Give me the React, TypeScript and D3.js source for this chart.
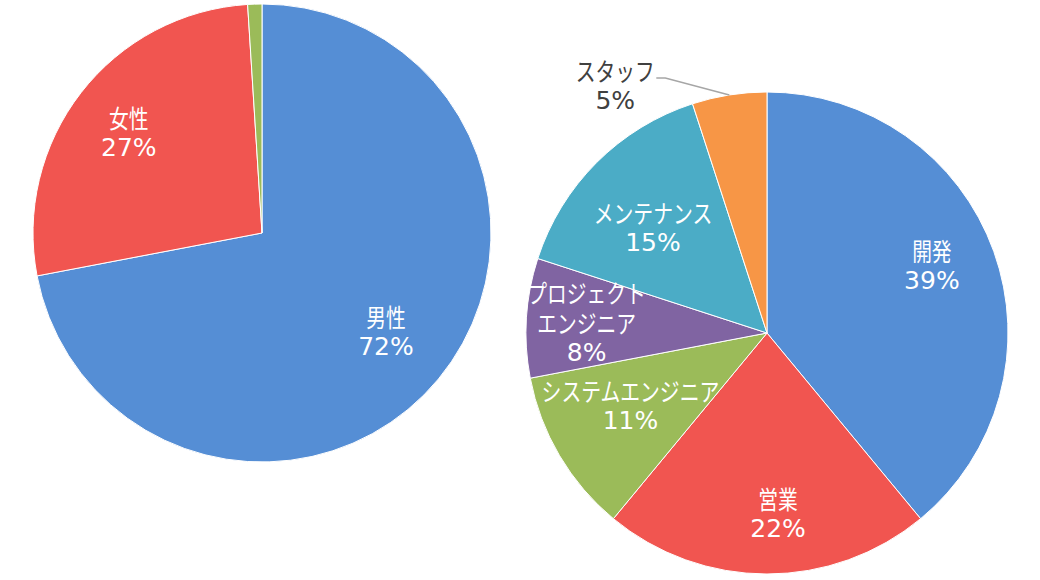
import React, { useEffect, useRef } from 'react';
import * as d3 from 'd3';

// left pie: gender split
const genderLabels = ['男性', '女性', ''];
const genderValues = [72, 27, 1];

// right pie: job categories
const jobLabels = ['開発', '営業', 'システムエンジニア', 'プロジェクト\nエンジニア', 'メンテナンス', 'スタッフ'];
const jobValues = [39, 22, 11, 8, 15, 5];

const genderColors = ['#558ED5', '#F15550', '#9BBB59'];
const jobColors = ['#558ED5', '#F15550', '#9BBB59', '#8064A2', '#4BACC6', '#F79646'];

type Slice = { label: string; value: number };

// where Excel put each label: [fraction of radius, nudge from mid angle in degrees]
const labelPos: Record<string, [number, number]> = {
  '男性': [0.69, -1.3],
  '女性': [0.73, -0.6],
  '開発': [0.74, -2.6],
  '営業': [0.75, -3.5],
  'システムエンジニア': [0.64, 2.9],
  'プロジェクト\nエンジニア': [0.75, 0],
  'メンテナンス': [0.646, -2.1],
};

const CJK = '"Noto Sans CJK JP", sans-serif';
const NUM = '"DejaVu Sans", sans-serif';
const CJK_SIZE = 25;
const SQUEEZE = 0.79; // the original font is narrower than Noto

const App: React.FC = () => {
  const svgRef = useRef<SVGSVGElement | null>(null);

  useEffect(() => {
    const svg = d3.select(svgRef.current);
    svg.selectAll('*').remove();

    const drawPie = (
      data: Slice[],
      colors: string[],
      cx: number,
      cy: number,
      r: number,
    ) => {
      const g = svg.append('g').attr('transform', `translate(${cx},${cy})`);
      const pie = d3
        .pie<Slice>()
        .sort(null)
        .value((d) => d.value);
      const arcs = pie(data);
      const arc = d3.arc<d3.PieArcDatum<Slice>>().innerRadius(0).outerRadius(r);

      g.selectAll('path')
        .data(arcs)
        .enter()
        .append('path')
        .attr('d', arc)
        .attr('fill', (_d, i) => colors[i])
        .attr('stroke', '#fff')
        .attr('stroke-width', 1);

      arcs.forEach((a) => {
        if (!a.data.label) return;
        const mid = (a.startAngle + a.endAngle) / 2;
        const names = a.data.label.split('\n');
        const pos = labelPos[a.data.label];
        let x: number;
        let y: number;
        let fill = '#fff';
        if (pos) {
          const ang = mid + (pos[1] * Math.PI) / 180;
          x = Math.sin(ang) * r * pos[0];
          y = -Math.cos(ang) * r * pos[0];
        } else {
          // outside label with leader line
          const ex = Math.sin(mid) * r;
          const ey = -Math.cos(mid) * r;
          const bx = ex - 64;
          const by = ey - 17;
          g.append('polyline')
            .attr('points', `${ex},${ey} ${bx},${by} ${bx - 9},${by}`)
            .attr('fill', 'none')
            .attr('stroke', '#A6A6A6')
            .attr('stroke-width', 1.5);
          x = bx - 50;
          y = by + 7;
          fill = '#404040';
        }
        const lh = 30;
        const n = names.length + 1;
        const top = y - ((n - 1) * lh) / 2;
        const t = g
          .append('text')
          .attr('text-anchor', 'middle')
          .attr('dominant-baseline', 'central')
          .attr('fill', fill);
        names.forEach((ln, i) => {
          t.append('tspan')
            .attr('x', x)
            .attr('y', top + i * lh)
            .attr('font-family', CJK)
            .attr('font-size', CJK_SIZE)
            .attr('textLength', ln.length * CJK_SIZE * SQUEEZE)
            .attr('lengthAdjust', 'spacingAndGlyphs')
            .text(ln);
        });
        t.append('tspan')
          .attr('x', x)
          .attr('y', top + names.length * lh)
          .attr('font-family', NUM)
          .attr('font-size', 25)
          .text(`${a.data.value}%`);
      });
    };

    drawPie(
      genderLabels.map((label, i) => ({ label, value: genderValues[i] })),
      genderColors,
      262,
      233,
      229,
    );
    drawPie(
      jobLabels.map((label, i) => ({ label, value: jobValues[i] })),
      jobColors,
      767,
      333,
      241,
    );
  }, []);

  return (
    <svg
      ref={svgRef}
      width={1040}
      height={580}
      style={{ position: 'absolute', left: 0, top: 0, background: '#fff' }}
    />
  );
};

export default App;
